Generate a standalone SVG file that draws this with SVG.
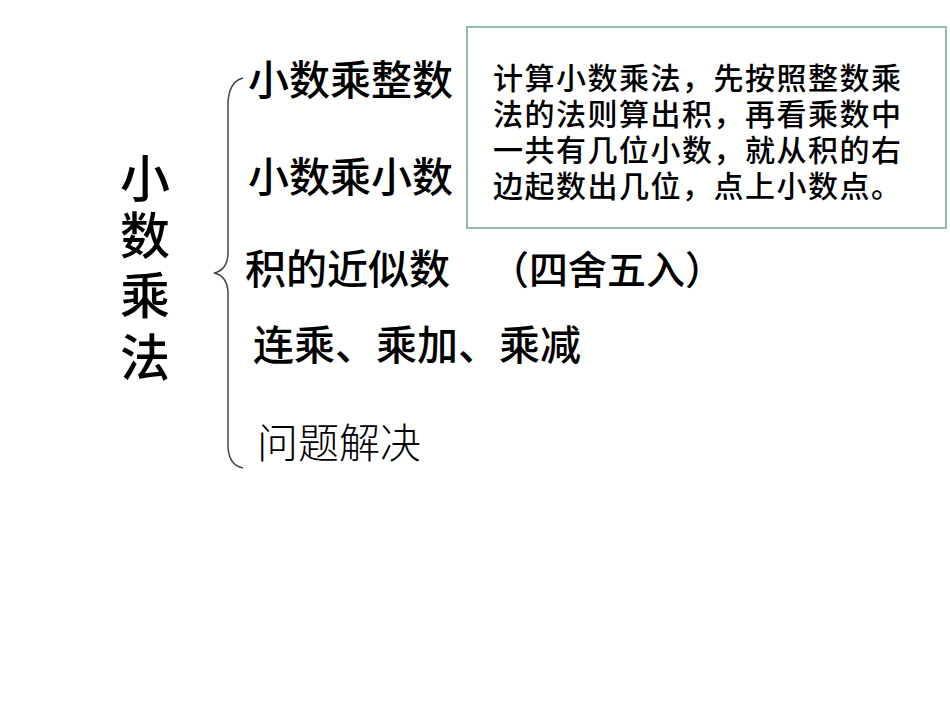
<svg xmlns="http://www.w3.org/2000/svg" width="950" height="713" viewBox="0 0 950 713">
<style>
text{font-family:"Noto Sans CJK SC","Noto Sans CJK JP",sans-serif;fill:#000}
.item{font-size:41px;font-weight:500}
.light{font-size:41px;font-weight:300}
.title{font-size:50px;font-weight:500}
.note{font-size:30px;font-weight:500;letter-spacing:1.5px}
</style>
<rect width="950" height="713" fill="#fff"/>
<g id="title">
<text class="title" text-anchor="middle"><tspan x="145" y="197">小</tspan><tspan x="145" y="254">数</tspan><tspan x="145" y="314">乘</tspan><tspan x="145" y="376">法</tspan></text>
</g>
<g id="connectors">
<path d="M243,78 Q228,82 228,105 L228,252 Q228,270 214,273 Q228,276 228,294 L228,445 Q228,465 243,468" fill="none" stroke="#444" stroke-width="1.5"/>
</g>
<g id="item1"><text class="item" x="248" y="95">小数乘整数</text></g>
<g id="item2"><text class="item" x="248" y="192">小数乘小数</text></g>
<g id="item3"><text class="item" x="245" y="284">积的近似数</text><text class="item" x="490" y="284" style="font-size:39px">（四舍五入）</text></g>
<g id="item4"><text class="item" x="253" y="360">连乘、乘加、乘减</text></g>
<g id="item5"><text class="light" x="257" y="458">问题解决</text></g>
<g id="note">
<rect x="467" y="27" width="479" height="201" fill="#fff" stroke="#8fbfa5" stroke-width="2"/>
<text class="note"><tspan x="493" y="89">计算小数乘法，先按照整数乘</tspan><tspan x="493" y="125">法的法则算出积，再看乘数中</tspan><tspan x="493" y="161">一共有几位小数，就从积的右</tspan><tspan x="493" y="197">边起数出几位，点上小数点。</tspan></text>
</g>
</svg>
